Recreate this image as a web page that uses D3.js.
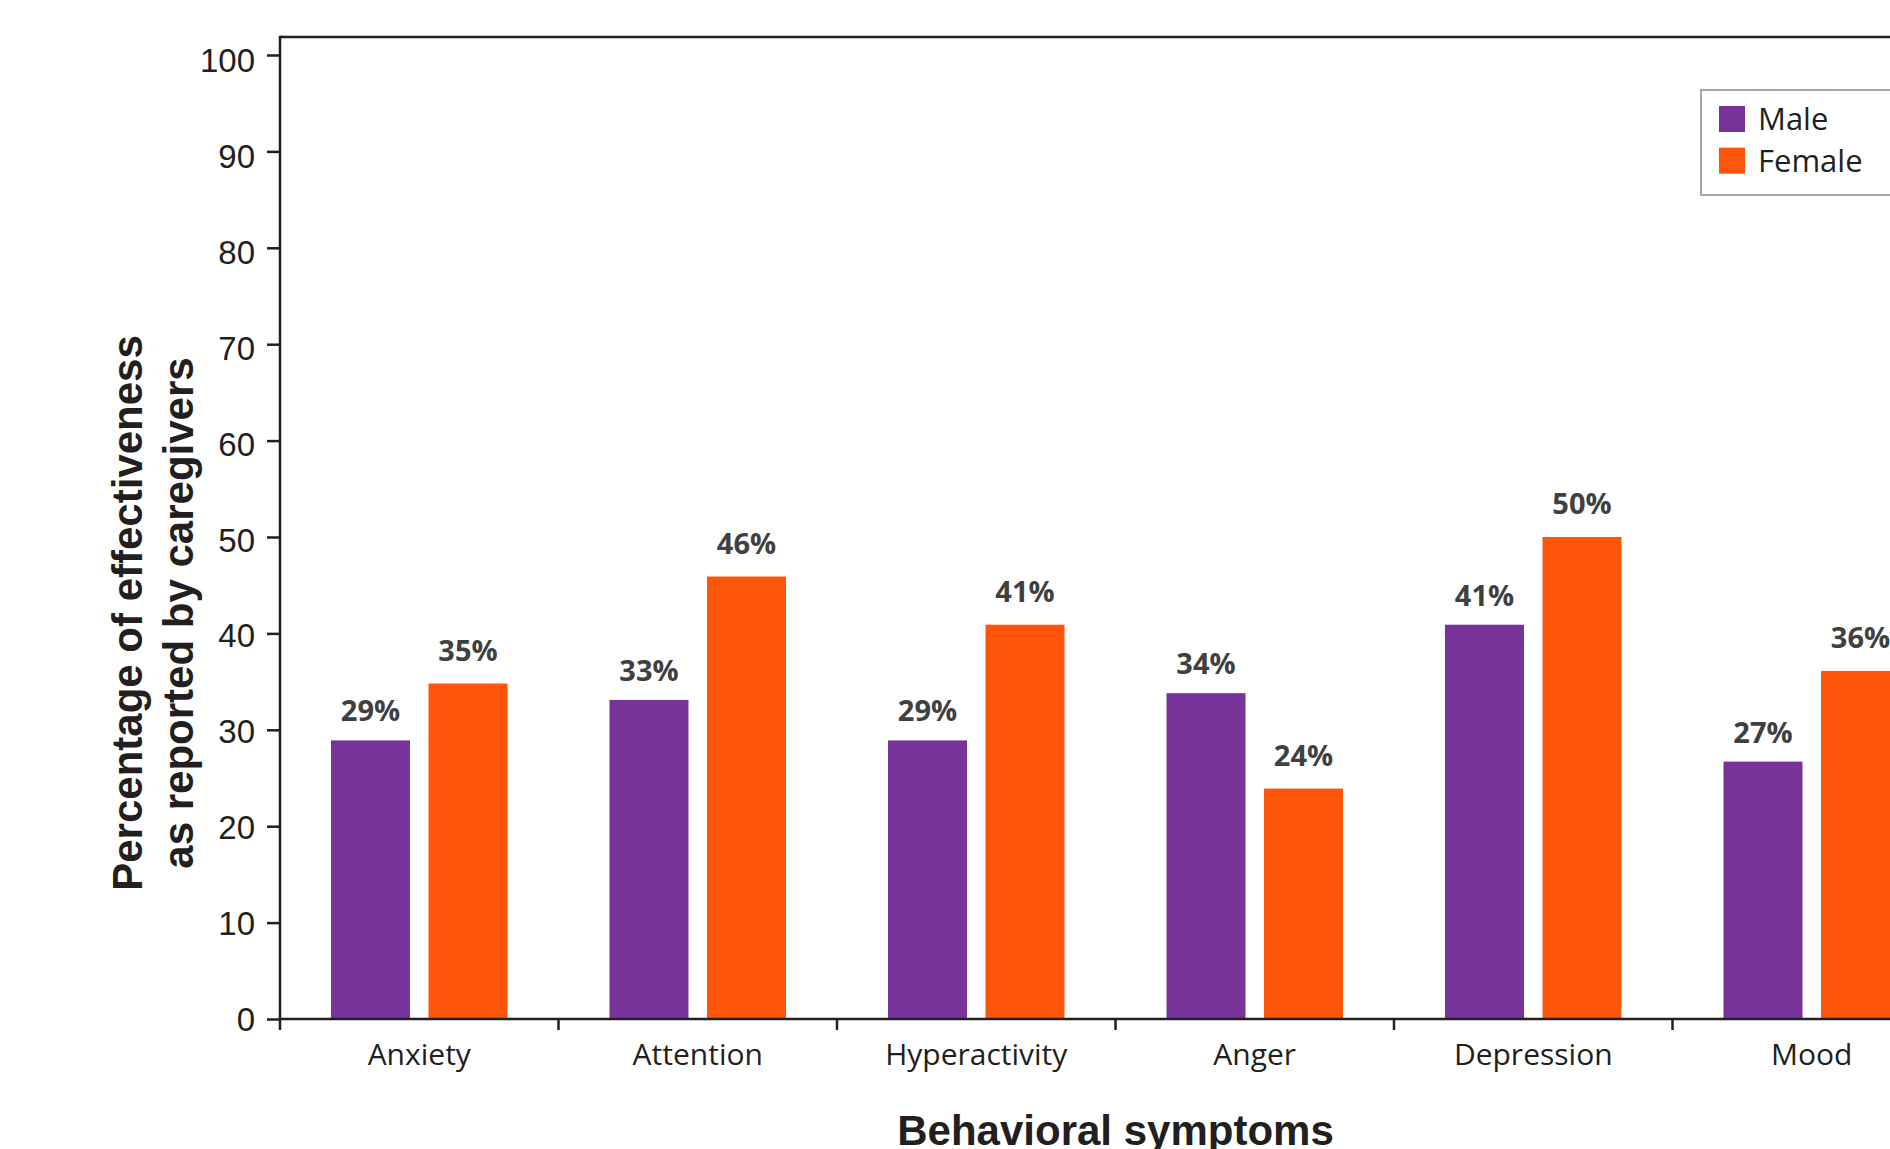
<!DOCTYPE html>
<html>
<head>
<meta charset="utf-8">
<script src="https://cdn.jsdelivr.net/npm/d3@7"></script>
<style>
  html, body { margin: 0; padding: 0; background: #fff; overflow: hidden; }
  svg { display: block; }
</style>
</head>
<body>
<svg id="chart" width="1890" height="1149"></svg>
<script>
// ---- data ----
const categories = ["Anxiety", "Attention", "Hyperactivity", "Anger", "Depression", "Mood"];
const seriesNames = ["Male", "Female"];
const maleValues = [28.9, 33.1, 28.9, 33.8, 40.9, 26.7];
const femaleValues = [34.8, 45.9, 40.9, 23.9, 50.0, 36.1];
const maleLabels = ["29%", "33%", "29%", "34%", "41%", "27%"];
const femaleLabels = ["35%", "46%", "41%", "24%", "50%", "36%"];
const yTicks = [0, 10, 20, 30, 40, 50, 60, 70, 80, 90, 100];
const colors = ["#773399", "#ff550a"];
const yTitleLines = ["Percentage of effectiveness", "as reported by caregivers"];
const xTitle = "Behavioral symptoms";

// ---- layout ----
const svg = d3.select("#chart");
const left = 280, bandStep = 278.5;
const right = left + bandStep * categories.length;
const frameTop = 37, y0 = 1019, y100 = 55;
const ink = "#231f20";

const x = d3.scaleBand().domain(categories).range([left, right]).padding(0);
const xs = d3.scaleBand().domain(seriesNames).range([51, bandStep - 51]).paddingInner(0.19);
const y = d3.scaleLinear().domain([0, 100]).range([y0, y100]);
// tick labels in the original sit slightly lower than their ticks toward the top
const yLabel = d3.scaleLinear().domain([0, 100]).range([y0 + 1, y100 + 6]);

const rows = categories.map((c, i) => ({
  cat: c,
  vals: [
    { s: "Male", v: maleValues[i], label: maleLabels[i], color: colors[0], gap: 19 },
    { s: "Female", v: femaleValues[i], label: femaleLabels[i], color: colors[1], gap: 23 }
  ]
}));

// bars
const g = svg.append("g");
const groups = g.selectAll("g.cat").data(rows).join("g")
  .attr("class", "cat")
  .attr("transform", d => `translate(${x(d.cat)},0)`);

groups.selectAll("rect").data(d => d.vals).join("rect")
  .attr("x", d => xs(d.s))
  .attr("width", xs.bandwidth())
  .attr("y", d => y(d.v))
  .attr("height", d => y(0) - y(d.v))
  .attr("fill", d => d.color);

groups.selectAll("text.val").data(d => d.vals).join("text")
  .attr("class", "val")
  .attr("x", d => xs(d.s) + xs.bandwidth() / 2)
  .attr("y", d => y(d.v) - d.gap)
  .attr("text-anchor", "middle")
  .attr("font-family", "'Open Sans', sans-serif")
  .attr("font-weight", "bold")
  .attr("font-size", 29)
  .attr("fill", "#404040")
  .text(d => d.label);

// frame: top and left lines
svg.append("line")
  .attr("x1", left).attr("x2", 1900)
  .attr("y1", frameTop).attr("y2", frameTop)
  .attr("stroke", ink).attr("stroke-width", 2.5);
svg.append("line")
  .attr("x1", left).attr("x2", left)
  .attr("y1", frameTop - 1.25).attr("y2", y0)
  .attr("stroke", ink).attr("stroke-width", 2.5);

// y axis
const yAxis = d3.axisLeft(y).tickValues(yTicks).tickSize(13).tickPadding(12).tickFormat(d3.format("d"));
const yg = svg.append("g").attr("transform", `translate(${left},0)`).call(yAxis);
yg.select(".domain").remove();
yg.selectAll(".tick line").attr("stroke", ink).attr("stroke-width", 2.5);
yg.selectAll(".tick text")
  .attr("font-family", "'Liberation Sans', Arial, sans-serif")
  .attr("font-size", 33)
  .attr("fill", ink)
  .attr("transform", d => `translate(0,${yLabel(d) - y(d)})`);

// x axis
const boundaries = categories.map(c => x(c)).concat([right]);
const xg = svg.append("g");
xg.append("line")
  .attr("x1", left - 1.25).attr("x2", right)
  .attr("y1", y0).attr("y2", y0)
  .attr("stroke", ink).attr("stroke-width", 2.5);
xg.selectAll("line.tick").data(boundaries).join("line")
  .attr("class", "tick")
  .attr("x1", d => d).attr("x2", d => d)
  .attr("y1", y0).attr("y2", y0 + 11)
  .attr("stroke", ink).attr("stroke-width", 2.5);
xg.selectAll("text.cat").data(categories).join("text")
  .attr("class", "cat")
  .attr("x", d => x(d) + x.bandwidth() / 2)
  .attr("y", 1065)
  .attr("text-anchor", "middle")
  .attr("font-family", "'Open Sans', sans-serif")
  .attr("font-size", 30)
  .attr("fill", ink)
  .text(d => d);

// axis titles
svg.append("text")
  .attr("x", (left + right) / 2)
  .attr("y", 1145)
  .attr("text-anchor", "middle")
  .attr("font-family", "'Liberation Sans', Arial, sans-serif")
  .attr("font-weight", "bold")
  .attr("font-size", 42)
  .attr("fill", ink)
  .text(xTitle);

const yt = svg.append("text")
  .attr("transform", "translate(0,613) rotate(-90)")
  .attr("text-anchor", "middle")
  .attr("font-family", "'Liberation Sans', Arial, sans-serif")
  .attr("font-weight", "bold")
  .attr("font-size", 42)
  .attr("fill", ink);
yt.selectAll("tspan").data(yTitleLines).join("tspan")
  .attr("x", 0)
  .attr("y", (d, i) => [142, 193][i])
  .text(d => d);

// legend
const lg = svg.append("g");
lg.append("rect")
  .attr("x", 1701).attr("y", 90)
  .attr("width", 260).attr("height", 105)
  .attr("fill", "#fff")
  .attr("stroke", "#a6a6a6").attr("stroke-width", 2);
const items = lg.selectAll("g.item").data(seriesNames).join("g").attr("class", "item")
  .attr("transform", (d, i) => `translate(1719,${106 + i * 41.7})`);
items.append("rect")
  .attr("width", 26).attr("height", 26)
  .attr("fill", (d, i) => colors[i]);
items.append("text")
  .attr("x", 39).attr("y", 24)
  .attr("font-family", "'Open Sans', sans-serif")
  .attr("font-size", 31)
  .attr("fill", ink)
  .text(d => d);
</script>
</body>
</html>
